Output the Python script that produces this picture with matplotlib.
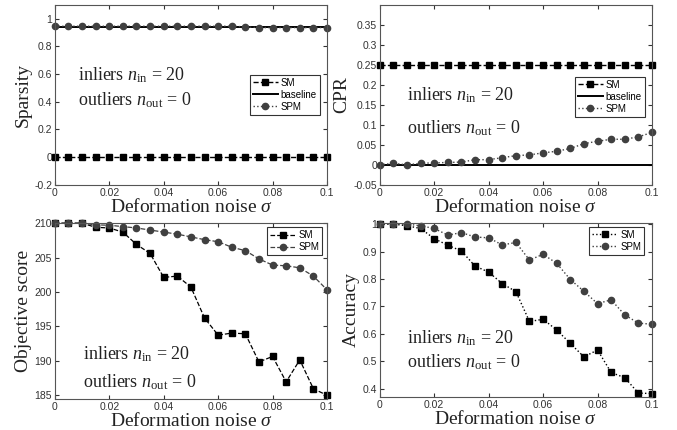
import numpy as np
import matplotlib
matplotlib.use("Agg")
import matplotlib.pyplot as plt
from matplotlib.ticker import FuncFormatter

# noise levels
sigma = np.linspace(0, 0.1, 21)

# Sparsity
sparsity_sm = [0.0] * 21
sparsity_spm = [0.945, 0.945, 0.945, 0.945, 0.945, 0.945, 0.945, 0.945, 0.945, 0.945,
                0.945, 0.945, 0.945, 0.945, 0.94, 0.935, 0.935, 0.935, 0.935, 0.935, 0.935]
sparsity_base = [0.94] * 21

# CPR
cpr_sm = [0.25] * 21
cpr_spm = [0.0, 0.004, 0.0, 0.004, 0.005, 0.006, 0.007, 0.013, 0.013, 0.018, 0.023,
           0.025, 0.030, 0.034, 0.041, 0.053, 0.059, 0.064, 0.064, 0.070, 0.081]
cpr_base = [0.0] * 21

# Objective score
obj_sm = [210.0, 210.0, 210.0, 209.4, 209.3, 208.7, 206.9, 205.6, 202.1, 202.3, 200.7,
          196.2, 193.7, 194.0, 193.9, 189.8, 190.6, 186.9, 190.1, 185.9, 184.95]
obj_spm = [210.0, 210.0, 210.0, 209.75, 209.7, 209.5, 209.3, 209.0, 208.7, 208.4, 208.0,
           207.6, 207.3, 206.5, 206.0, 204.8, 203.9, 203.8, 203.5, 202.3, 200.3]

# Accuracy
acc_sm = [1.0, 1.0, 0.994, 0.984, 0.947, 0.923, 0.902, 0.847, 0.825, 0.783, 0.754,
          0.645, 0.653, 0.614, 0.565, 0.516, 0.541, 0.459, 0.440, 0.384, 0.382]
acc_spm = [1.0, 1.0, 1.0, 0.994, 0.984, 0.960, 0.969, 0.953, 0.950, 0.924, 0.933,
           0.869, 0.890, 0.857, 0.798, 0.755, 0.710, 0.724, 0.669, 0.639, 0.635]

SM_C = "black"
SPM_C = "#404040"
SERIF = "Liberation Serif"

plt.rcParams["font.family"] = "Liberation Sans"
plt.rcParams["mathtext.fontset"] = "custom"
plt.rcParams["mathtext.rm"] = "Liberation Serif"
plt.rcParams["mathtext.it"] = "Liberation Serif:italic"
plt.rcParams["mathtext.bf"] = "Liberation Serif:bold"

fig = plt.figure(figsize=(6.77, 4.30), dpi=100)
ax_tl = fig.add_axes([0.081, 0.570, 0.402, 0.419])
ax_tr = fig.add_axes([0.561, 0.570, 0.402, 0.419])
ax_bl = fig.add_axes([0.081, 0.072, 0.402, 0.409])
ax_br = fig.add_axes([0.561, 0.077, 0.402, 0.405])


def num(v, p):
    return "%g" % round(v, 4)


def style(ax, ylabel):
    ax.set_xlim(0, 0.1)
    ax.set_xticks([0, 0.02, 0.04, 0.06, 0.08, 0.1])
    ax.xaxis.set_major_formatter(FuncFormatter(num))
    ax.yaxis.set_major_formatter(FuncFormatter(num))
    ax.tick_params(direction="in", top=True, right=True, length=3,
                   labelsize=7.5, colors="#333333", pad=2)
    for s in ax.spines.values():
        s.set_color("#555555")
        s.set_linewidth(0.8)
    ax.set_xlabel(r"Deformation noise $\sigma$", fontsize=14, family=SERIF,
                  color="#222222", labelpad=0)
    ax.set_ylabel(ylabel, fontsize=14, family=SERIF, color="#222222", labelpad=2)


def note(ax, x, y1, y2):
    ax.text(x, y1, r"inliers $n_{\rm in}$ = 20", fontsize=13, family=SERIF,
            color="#222222", va="center", transform=ax.transAxes)
    ax.text(x, y2, r"outliers $n_{\rm out}$ = 0", fontsize=13, family=SERIF,
            color="#222222", va="center", transform=ax.transAxes)


def legend(ax, anchor):
    leg = ax.legend(loc="upper right", bbox_to_anchor=anchor, fontsize=7,
                    frameon=True, fancybox=False,
                    borderpad=0.3, labelspacing=0.2, handlelength=2.6,
                    handletextpad=0.3, borderaxespad=0)
    leg.get_frame().set_edgecolor("black")
    leg.get_frame().set_linewidth(0.8)


# top left: sparsity
ax = ax_tl
ax.plot(sigma, sparsity_sm, "--s", color=SM_C, ms=5, lw=1.0, label="SM", clip_on=False)
ax.plot(sigma, sparsity_base, "-", color=SM_C, lw=1.4, label="baseline")
ax.plot(sigma, sparsity_spm, ":o", color=SPM_C, ms=4.5, lw=1.0, label="SPM", clip_on=False)
ax.set_ylim(-0.2, 1.1)
ax.set_yticks([-0.2, 0, 0.2, 0.4, 0.6, 0.8, 1.0])
style(ax, "Sparsity")
note(ax, 0.085, 0.61, 0.47)
legend(ax, (0.974, 0.611))

# top right: CPR
ax = ax_tr
ax.plot(sigma, cpr_sm, "--s", color=SM_C, ms=5, lw=1.0, label="SM", clip_on=False)
ax.plot(sigma, cpr_base, "-", color=SM_C, lw=1.4, label="baseline")
ax.plot(sigma, cpr_spm, ":o", color=SPM_C, ms=4.5, lw=1.0, label="SPM", clip_on=False)
ax.set_ylim(-0.05, 0.4)
ax.set_yticks([-0.05, 0, 0.05, 0.1, 0.15, 0.2, 0.25, 0.3, 0.35])
style(ax, "CPR")
note(ax, 0.1, 0.5, 0.317)
legend(ax, (0.974, 0.6))

# bottom left: objective score
ax = ax_bl
ax.plot(sigma, obj_sm, "--s", color=SM_C, ms=5, lw=0.9, label="SM", clip_on=False)
ax.plot(sigma, obj_spm, "--o", color=SPM_C, ms=4.5, lw=0.9, label="SPM", clip_on=False)
ax.set_ylim(184.4, 210)
ax.set_yticks([185, 190, 195, 200, 205, 210])
style(ax, "Objective score")
note(ax, 0.103, 0.256, 0.097)
legend(ax, (0.982, 0.977))

# bottom right: accuracy
ax = ax_br
ax.plot(sigma, acc_sm, ":s", color=SM_C, ms=5, lw=1.0, label="SM", clip_on=False)
ax.plot(sigma, acc_spm, ":o", color=SPM_C, ms=4.5, lw=1.0, label="SPM", clip_on=False)
ax.set_ylim(0.37, 1.005)
ax.set_yticks([0.4, 0.5, 0.6, 0.7, 0.8, 0.9, 1.0])
style(ax, "Accuracy")
note(ax, 0.1, 0.34, 0.2)
legend(ax, (0.971, 0.977))

fig.savefig("out.png", dpi=100)

# sanity check: the tick labels 0.2..0.8 of the first panel must have ink
img = plt.imread("out.png")
if img[40:135, 36:51, :3].min() > 0.6:
    info = [(t.get_text(), t.get_visible(), t.get_window_extent().bounds)
            for t in ax_tl.get_yticklabels()]
    raise RuntimeError("missing tick labels: %r" % info)
